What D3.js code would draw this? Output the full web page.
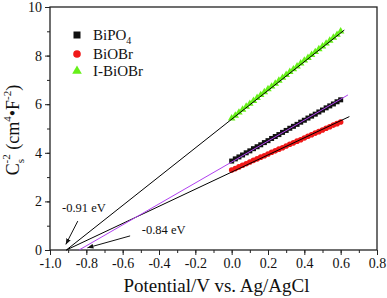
<!DOCTYPE html>
<html>
<head>
<meta charset="utf-8">
<script src="https://cdn.jsdelivr.net/npm/d3@7"></script>
<style>
  body { margin: 0; background: #fff; }
  svg { display: block; }
  svg text { font-family: "Liberation Serif", "Times New Roman", serif; }
</style>
</head>
<body>
<svg id="chart" width="387" height="298"></svg>
<script>
// potential (V vs. Ag/AgCl) for the measured points
const potential = [0.00, 0.02, 0.04, 0.06, 0.08, 0.10, 0.12, 0.14, 0.16, 0.18, 0.20,
  0.22, 0.24, 0.26, 0.28, 0.30, 0.32, 0.34, 0.36, 0.38, 0.40, 0.42, 0.44, 0.46,
  0.48, 0.50, 0.52, 0.54, 0.56, 0.58, 0.60];

const biPO4 = [3.66, 3.75, 3.83, 3.91, 4.00, 4.08, 4.17, 4.25, 4.33, 4.42, 4.50,
  4.59, 4.67, 4.75, 4.84, 4.92, 5.01, 5.09, 5.17, 5.26, 5.34, 5.43, 5.51, 5.59,
  5.68, 5.76, 5.85, 5.93, 6.01, 6.10, 6.18];

const biOBr = [3.29, 3.35, 3.42, 3.49, 3.55, 3.62, 3.69, 3.75, 3.82, 3.88, 3.95,
  4.02, 4.08, 4.15, 4.21, 4.28, 4.35, 4.41, 4.48, 4.54, 4.61, 4.68, 4.74, 4.81,
  4.87, 4.94, 5.01, 5.07, 5.14, 5.20, 5.27];

const iBiOBr = [5.42, 5.53, 5.66, 5.78, 5.90, 6.02, 6.14, 6.26, 6.38, 6.50, 6.62,
  6.73, 6.85, 6.97, 7.09, 7.21, 7.33, 7.44, 7.56, 7.68, 7.80, 7.91, 8.03, 8.15,
  8.27, 8.38, 8.50, 8.62, 8.74, 8.86, 9.00];

// linear fits extrapolated to the x axis: [start, end] as [x, y]
const fitIBiOBr = [[-0.91, 0], [0.62, 9.05]];
const fitBiOBr = [[-0.91, 0], [0.648, 5.49]];
const fitBiPO4 = [[-0.84, 0], [0.64, 6.38]];

const legendNames = ['BiPO', 'BiOBr', 'I-BiOBr'];
const xTicks = [-1.0, -0.8, -0.6, -0.4, -0.2, 0.0, 0.2, 0.4, 0.6, 0.8];
const yTicks = [0, 2, 4, 6, 8, 10];

const svg = d3.select('#chart');
const m = { left: 50, right: 377, top: 7, bottom: 250 };

const x = d3.scaleLinear().domain([-1.0, 0.8]).range([m.left, m.right]);
const y = d3.scaleLinear().domain([0, 10]).range([m.bottom, m.top]);

const fmt = (d) => d3.format('.1f')(d).replace('−', '-');

// minor ticks
const xMinor = d3.range(-1.0, 0.81, 0.1);
const yMinor = d3.range(0, 10.01, 1);

svg.append('g')
  .attr('transform', `translate(0,${m.bottom})`)
  .call(d3.axisBottom(x).tickValues(xMinor).tickSize(3).tickFormat(''))
  .call((g) => g.select('.domain').remove());
svg.append('g')
  .attr('transform', `translate(${m.left},0)`)
  .call(d3.axisLeft(y).tickValues(yMinor).tickSize(3).tickFormat(''))
  .call((g) => g.select('.domain').remove());

const xAxis = svg.append('g')
  .attr('transform', `translate(0,${m.bottom})`)
  .call(d3.axisBottom(x).tickValues(xTicks).tickSize(5).tickPadding(3).tickFormat(fmt));
const yAxis = svg.append('g')
  .attr('transform', `translate(${m.left},0)`)
  .call(d3.axisLeft(y).tickValues(yTicks).tickSize(5).tickPadding(3).tickFormat(d3.format('d')));

[xAxis, yAxis].forEach((g) => {
  g.select('.domain').remove();
  g.attr('font-family', '"Liberation Serif", serif');
  g.selectAll('text')
    .style('font-family', '"Liberation Serif", serif')
    .style('font-size', '14px')
    .attr('fill', '#111');
});
svg.selectAll('.tick line').attr('stroke', '#222').attr('stroke-width', 1);

// frame
svg.append('rect')
  .attr('x', m.left).attr('y', m.top)
  .attr('width', m.right - m.left).attr('height', m.bottom - m.top)
  .attr('fill', 'none').attr('stroke', '#222').attr('stroke-width', 1.3);

const plot = svg.append('g');

// markers
const pts = (vals) => vals.map((v, i) => [potential[i], v]);

plot.selectAll('rect.sq')
  .data(pts(biPO4))
  .join('rect')
  .attr('class', 'sq')
  .attr('x', (d) => x(d[0]) - 2.5)
  .attr('y', (d) => y(d[1]) - 2.5)
  .attr('width', 5).attr('height', 5)
  .attr('fill', '#111');

plot.selectAll('circle.rd')
  .data(pts(biOBr))
  .join('circle')
  .attr('class', 'rd')
  .attr('cx', (d) => x(d[0]))
  .attr('cy', (d) => y(d[1]))
  .attr('r', 2.8)
  .attr('fill', '#f01818');

const tri = d3.symbol().type(d3.symbolTriangle).size(24);
plot.selectAll('path.tr')
  .data(pts(iBiOBr))
  .join('path')
  .attr('class', 'tr')
  .attr('transform', (d) => `translate(${x(d[0])},${y(d[1])})`)
  .attr('d', tri)
  .attr('fill', '#66f019');

// fit lines
const line = d3.line().x((d) => x(d[0])).y((d) => y(d[1]));
plot.append('path').attr('d', line(fitIBiOBr)).attr('stroke', '#000').attr('stroke-width', 1).attr('fill', 'none');
plot.append('path').attr('d', line(fitBiOBr)).attr('stroke', '#000').attr('stroke-width', 1).attr('fill', 'none');
plot.append('path').attr('d', line(fitBiPO4)).attr('stroke', '#b040f0').attr('stroke-width', 1).attr('fill', 'none');

// annotations
svg.append('defs').append('marker')
  .attr('id', 'head')
  .attr('viewBox', '0 0 10 10')
  .attr('refX', 10).attr('refY', 5)
  .attr('markerWidth', 6).attr('markerHeight', 6)
  .attr('orient', 'auto')
  .append('path').attr('d', 'M0,1L10,5L0,9Z').attr('fill', '#111');

const notes = [
  { text: '-0.91 eV', at: [-0.934, 1.56], from: [-0.847, 1.19], to: [-0.913, 0.23] },
  { text: '-0.84 eV', at: [-0.495, 0.66], from: [-0.559, 0.58], to: [-0.794, 0.09] },
];
notes.forEach((n) => {
  svg.append('text')
    .attr('x', x(n.at[0])).attr('y', y(n.at[1]))
    .attr('font-size', 12.5).attr('fill', '#111')
    .text(n.text);
  svg.append('line')
    .attr('x1', x(n.from[0])).attr('y1', y(n.from[1]))
    .attr('x2', x(n.to[0])).attr('y2', y(n.to[1]))
    .attr('stroke', '#111').attr('stroke-width', 1)
    .attr('marker-end', 'url(#head)');
});

// legend
const lg = svg.append('g');
const legendY = [35, 54, 71];
lg.append('rect').attr('x', 73.5).attr('y', legendY[0] - 3.5).attr('width', 7).attr('height', 7).attr('fill', '#111');
lg.append('circle').attr('cx', 77).attr('cy', legendY[1]).attr('r', 3.8).attr('fill', '#f01818');
lg.append('path').attr('transform', `translate(77,${legendY[2]})`)
  .attr('d', d3.symbol().type(d3.symbolTriangle).size(40)).attr('fill', '#66f019');
legendNames.forEach((name, i) => {
  const t = lg.append('text')
    .attr('x', 93).attr('y', legendY[i] + 5)
    .attr('font-size', 15).attr('fill', '#111')
    .text(name);
  if (i === 0) t.append('tspan').attr('font-size', 10).attr('dy', 4).text('4');
});

// axis titles
svg.append('text')
  .attr('x', 216.5).attr('y', 292)
  .attr('text-anchor', 'middle')
  .attr('font-size', 19).attr('fill', '#111')
  .text('Potential/V vs. Ag/AgCl');

const yl = svg.append('text')
  .attr('transform', 'translate(19,130) rotate(-90)')
  .attr('text-anchor', 'middle')
  .attr('font-size', 18).attr('fill', '#111');
yl.append('tspan').text('C');
yl.append('tspan').attr('font-size', 11).attr('dy', 5).text('s');
yl.append('tspan').attr('font-size', 11).attr('dy', -14).attr('dx', -4.5).text('-2');
yl.append('tspan').attr('dy', 9).text(' (cm');
yl.append('tspan').attr('font-size', 11).attr('dy', -8).text('4');
yl.append('tspan').attr('dy', 8).text('•F');
yl.append('tspan').attr('font-size', 11).attr('dy', -8).text('-2');
yl.append('tspan').attr('dy', 8).text(')');
</script>
</body>
</html>
